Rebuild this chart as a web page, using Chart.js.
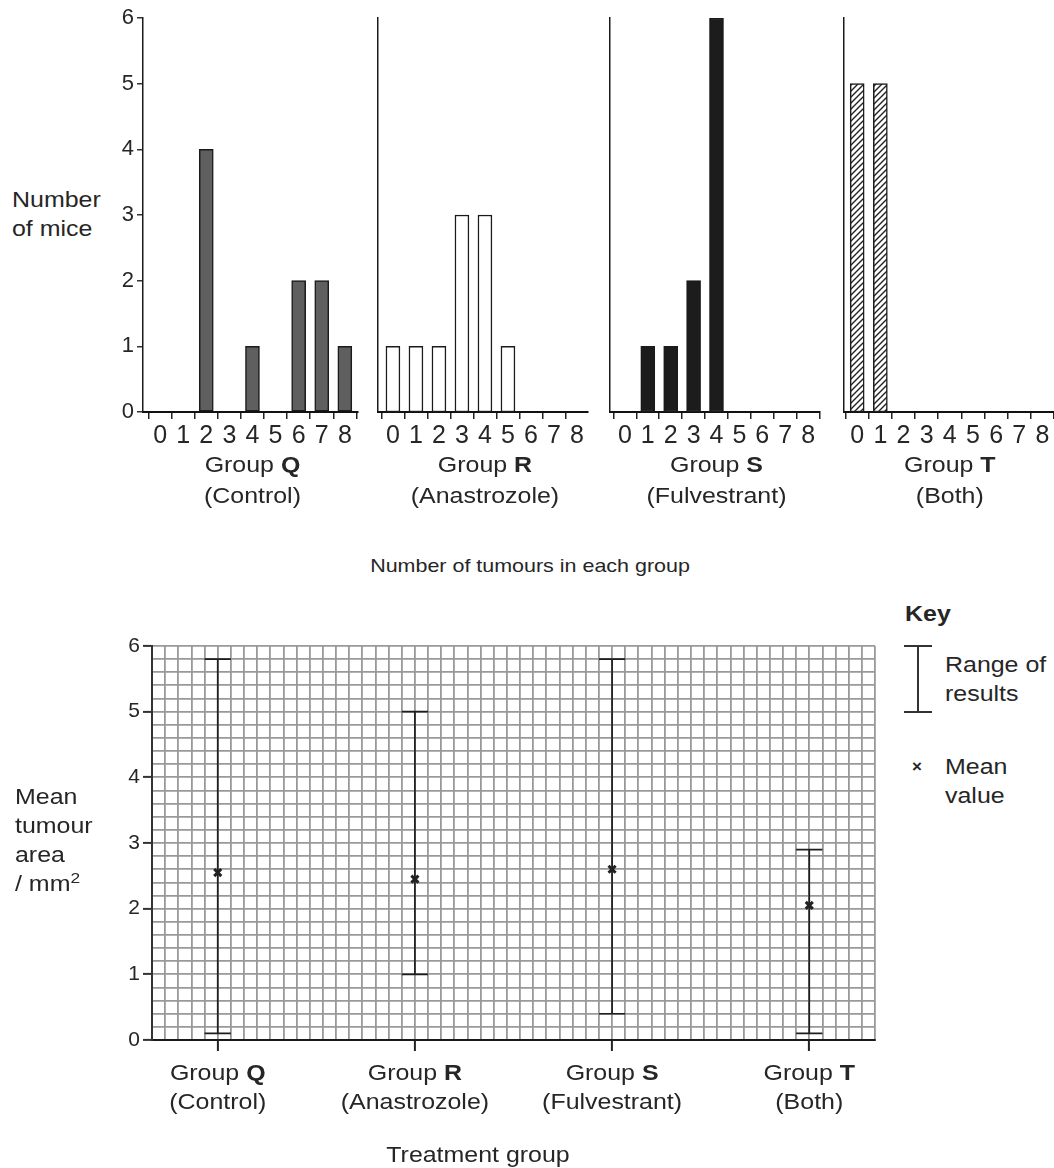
<!DOCTYPE html>
<html>
<head>
<meta charset="utf-8">
<script src="https://cdn.jsdelivr.net/npm/chart.js@4.4.1/dist/chart.umd.min.js"></script>
<style>
  body { margin: 0; background: #fff; }
  #page {
    position: relative; width: 1054px; height: 1168px; overflow: hidden;
    font-family: 'Liberation Sans', Arial, sans-serif; color: #262626;
  }
  canvas { position: absolute; top: 0; }
  .txt {
    position: absolute; font-size: 21.5px; line-height: 29px; white-space: nowrap;
    transform-origin: left top; transform: scaleX(1.16);
  }
  .mid { transform-origin: center top; transform: translateX(-50%) scaleX(1.16); }
  .keybar { position: absolute; background: #333; }
</style>
</head>
<body>
<div id="page">
  <div class="txt" style="left:12px; top:186px;">Number<br>of mice</div>
  <div class="txt mid" style="left:530px; top:551px; font-size:18.5px;">Number of tumours in each group</div>

  <canvas id="panelQ" width="368" height="520" style="left:0px;"></canvas>
  <canvas id="panelR" width="226" height="520" style="left:374px;"></canvas>
  <canvas id="panelS" width="226" height="520" style="left:606px;"></canvas>
  <canvas id="panelT" width="214" height="520" style="left:840px;"></canvas>

  <canvas id="areaChart" width="900" height="578" style="left:0px; top:590px;"></canvas>

  <div class="txt" style="left:15px; top:783px;">Mean<br>tumour<br>area<br>/ mm<sup style="font-size:15px; line-height:0;">2</sup></div>
  <div class="txt mid" style="left:478px; top:1141px;">Treatment group</div>

  <!-- key -->
  <div class="txt" style="left:905px; top:600px; font-weight:bold;">Key</div>
  <div class="keybar" style="left:917px; top:646px; width:2px; height:66px;"></div>
  <div class="keybar" style="left:904px; top:645px; width:28px; height:2px;"></div>
  <div class="keybar" style="left:904px; top:711px; width:28px; height:2px;"></div>
  <div class="txt" style="left:945px; top:651px;">Range of<br>results</div>
  <div class="txt" style="left:912px; top:752px; font-size:17px; font-weight:bold; transform:none;">×</div>
  <div class="txt" style="left:945px; top:753px;">Mean<br>value</div>
</div>

<script>
'use strict';

// number of tumours per mouse (x categories of the top panels)
const tumourCounts = [0, 1, 2, 3, 4, 5, 6, 7, 8];

// number of mice with each tumour count
const miceQ = [0, 0, 4, 0, 1, 0, 2, 2, 1];
const miceR = [1, 1, 1, 3, 3, 1, 0, 0, 0];
const miceS = [0, 1, 1, 2, 6, 0, 0, 0, 0];
const miceT = [5, 5, 0, 0, 0, 0, 0, 0, 0];

const groupLetters = ['Q', 'R', 'S', 'T'];
const groupDrugs = ['(Control)', '(Anastrozole)', '(Fulvestrant)', '(Both)'];

// mean tumour area / mm2 and range of results
const meanArea = [2.55, 2.45, 2.6, 2.05];
const rangeLow = [0.1, 1.0, 0.4, 0.1];
const rangeHigh = [5.8, 5.0, 5.8, 2.9];

const FONT = "'Liberation Sans', Arial, sans-serif";
const INK = '#262626';
const STRETCH = 1.16;

function isWhole(v) {
    return Math.abs(v - Math.round(v)) < 1e-6;
}

// "Group X" (letter in bold) with the drug name underneath
function drawGroupText(ctx, cx, y1, y2, letter, drug, size) {
    const normal = size + 'px ' + FONT;
    const bold = 'bold ' + normal;
    ctx.save();
    ctx.translate(cx, 0);
    ctx.scale(STRETCH, 1);
    ctx.fillStyle = INK;
    ctx.textBaseline = 'middle';
    ctx.font = normal;
    const w1 = ctx.measureText('Group ').width;
    ctx.font = bold;
    const w2 = ctx.measureText(letter).width;
    const x0 = -(w1 + w2) / 2;
    ctx.textAlign = 'left';
    ctx.font = normal;
    ctx.fillText('Group ', x0, y1);
    ctx.font = bold;
    ctx.fillText(letter, x0 + w1, y1);
    ctx.font = normal;
    ctx.textAlign = 'center';
    ctx.fillText(drug, 0, y2);
    ctx.restore();
}

const panelLabel = {
    id: 'panelLabel',
    afterDraw(chart, args, opts) {
        const xs = chart.scales.x;
        const cx = xs.getPixelForValue(tumourCounts[4]);
        const b = chart.chartArea.bottom;
        drawGroupText(chart.ctx, cx, b + 54, b + 85, opts.letter, opts.drug, 21.5);
    }
};

function hatchPattern() {
    const c = document.createElement('canvas');
    c.width = 6;
    c.height = 6;
    const g = c.getContext('2d');
    g.fillStyle = '#fff';
    g.fillRect(0, 0, 6, 6);
    g.strokeStyle = '#222';
    g.lineWidth = 1.4;
    g.beginPath();
    g.moveTo(-2, 8); g.lineTo(8, -2);
    g.moveTo(-2, 2); g.lineTo(2, -2);
    g.moveTo(4, 8); g.lineTo(8, 4);
    g.stroke();
    return g.createPattern(c, 'repeat');
}

// top panels: one small bar chart per group
function makePanel(id, idx, mice, fill, lay) {
    const canvas = document.getElementById(id);
    const showY = lay.showY;
    return new Chart(canvas, {
        type: 'bar',
        data: {
            datasets: [{
                data: tumourCounts.map((n, i) => ({ x: n, y: mice[i] })),
                backgroundColor: fill,
                borderColor: '#1a1a1a',
                borderWidth: 1.5,
                borderSkipped: false,
                barThickness: 14
            }]
        },
        options: {
            responsive: false,
            animation: false,
            layout: { padding: { left: lay.padLeft, right: lay.padRight, top: 18, bottom: 0 } },
            plugins: {
                legend: { display: false },
                tooltip: { enabled: false },
                panelLabel: { letter: groupLetters[idx], drug: groupDrugs[idx] }
            },
            scales: {
                x: {
                    type: 'linear',
                    offset: false,
                    min: lay.span[0],
                    max: lay.span[1],
                    afterFit: s => { s.height = 108; },
                    afterBuildTicks: s => {
                        s.ticks = tumourCounts.map(v => ({ value: v }));
                    },
                    ticks: {
                        stepSize: 1,
                        autoSkip: false,
                        maxRotation: 0,
                        padding: 2,
                        color: INK,
                        font: { family: FONT, size: 25 },
                        callback: v => String(v)
                    },
                    grid: { drawOnChartArea: false, tickLength: 7, color: '#222', lineWidth: 1.5 },
                    border: { color: '#111', width: 2 }
                },
                y: {
                    min: 0,
                    max: 6,
                    afterFit: s => { s.width = lay.yWidth; },
                    ticks: {
                        display: showY,
                        stepSize: 1,
                        padding: 3,
                        color: INK,
                        font: { family: FONT, size: 22 }
                    },
                    grid: { display: showY, drawOnChartArea: false, tickLength: 6, color: '#333', lineWidth: 1.5 },
                    border: { color: '#1a1a1a', width: 1.5 }
                }
            }
        },
        plugins: [panelLabel]
    });
}

makePanel('panelQ', 0, miceQ, '#5f5f5f', { padLeft: 0, padRight: 10, yWidth: 143, span: [-0.74, 8.57], showY: true });
makePanel('panelR', 1, miceR, '#ffffff', { padLeft: 4, padRight: 12, yWidth: 0, span: [-0.65, 8.48], showY: false });
makePanel('panelS', 2, miceS, '#1c1c1c', { padLeft: 4, padRight: 12, yWidth: 0, span: [-0.65, 8.52], showY: false });
makePanel('panelT', 3, miceT, hatchPattern(), { padLeft: 4, padRight: 0, yWidth: 0, span: [-0.57, 8.5], showY: false });

// bottom chart: mean and range on graph paper
const groupX = i => 1 + 3 * i;

const rangeBars = {
    id: 'rangeBars',
    beforeDatasetsDraw(chart) {
        const xs = chart.scales.x;
        const ys = chart.scales.y;
        const ctx = chart.ctx;
        const cap = xs.getPixelForValue(0.2) - xs.getPixelForValue(0);
        ctx.save();
        ctx.strokeStyle = '#1e1e1e';
        ctx.lineWidth = 1.7;
        rangeLow.forEach((lo, i) => {
            const x = xs.getPixelForValue(groupX(i));
            const yLo = ys.getPixelForValue(lo);
            const yHi = ys.getPixelForValue(rangeHigh[i]);
            ctx.beginPath();
            ctx.moveTo(x, yLo); ctx.lineTo(x, yHi);
            ctx.moveTo(x - cap, yLo); ctx.lineTo(x + cap, yLo);
            ctx.moveTo(x - cap, yHi); ctx.lineTo(x + cap, yHi);
            ctx.stroke();
        });
        ctx.restore();
    },
    afterDraw(chart) {
        const xs = chart.scales.x;
        const b = chart.chartArea.bottom;
        groupLetters.forEach((g, i) => {
            drawGroupText(chart.ctx, xs.getPixelForValue(groupX(i)), b + 34, b + 63, g, groupDrugs[i], 21.5);
        });
    }
};

new Chart(document.getElementById('areaChart'), {
    type: 'scatter',
    data: {
        datasets: [{
            data: meanArea.map((m, i) => ({ x: groupX(i), y: m })),
            pointStyle: 'crossRot',
            radius: 5,
            borderWidth: 3,
            borderColor: '#222',
            backgroundColor: '#222'
        }]
    },
    options: {
        responsive: false,
        animation: false,
        layout: { padding: { left: 0, right: 25, top: 56, bottom: 0 } },
        plugins: { legend: { display: false }, tooltip: { enabled: false } },
        scales: {
            x: {
                type: 'linear',
                min: 0,
                max: 11,
                afterFit: s => { s.height = 128; },
                ticks: { stepSize: 0.2, autoSkip: false, maxTicksLimit: 100, display: false },
                grid: {
                    color: '#999999',
                    lineWidth: 1.8,
                    tickLength: 11,
                    tickWidth: 2,
                    tickColor: c => (c.tick && isWhole((c.tick.value - 1) / 3) ? '#222' : 'rgba(0,0,0,0)')
                },
                border: { color: '#1a1a1a', width: 2 }
            },
            y: {
                min: 0,
                max: 6,
                afterFit: s => { s.width = 152; },
                ticks: {
                    stepSize: 0.2,
                    autoSkip: false,
                    maxTicksLimit: 100,
                    padding: 3,
                    color: INK,
                    font: { family: FONT, size: 21 },
                    callback: v => (isWhole(v) ? String(Math.round(v)) : '')
                },
                grid: {
                    color: '#999999',
                    lineWidth: 1.8,
                    tickLength: 9,
                    tickWidth: 2,
                    tickColor: c => (c.tick && isWhole(c.tick.value) ? '#333' : 'rgba(0,0,0,0)')
                },
                border: { color: '#333', width: 2 }
            }
        }
    },
    plugins: [rangeBars]
});
</script>
</body>
</html>
